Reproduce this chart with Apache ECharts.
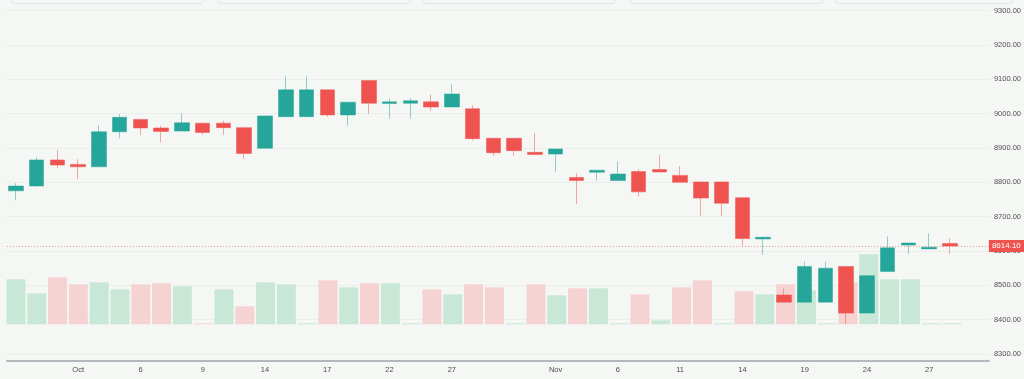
<!DOCTYPE html>
<html><head><meta charset="utf-8">
<script src="https://cdn.jsdelivr.net/npm/echarts@6/dist/echarts.min.js"></script>
<style>html,body{margin:0;padding:0;background:#f5f7f5;overflow:hidden}#c{width:1024px;height:379px;}</style>
</head><body><div id="c"></div>
<script>
// slot index of each candle (trading sessions)
const categories = [0,1,2,3,4,5,6,7,8,9,10,11,12,13,14,15,16,17,18,19,20,21,22,23,24,25,26,27,28,29,30,31,32,33,34,35,36,37,38,39,40,41,42,43,44,45];
const open  = [8775,8789,8865,8852,8845,8947,8983,8958,8949,8972,8972,8959,8899,8991,8991,9069,8996,9096,9029,9030,9034,9019,9014,8928,8928,8887,8882,8814,8829,8805,8831,8837,8820,8801,8801,8755,8635,8472,8451,8451,8555,8419,8540,8617,8606,8622];
const close = [8789,8865,8850,8845,8947,8989,8958,8948,8973,8945,8959,8884,8993,9069,9069,8996,9033,9030,9034,9037,9019,9057,8927,8886,8892,8881,8897,8805,8835,8824,8772,8830,8800,8754,8739,8636,8640,8451,8555,8550,8419,8528,8609,8623,8611,8614.1];
const low   = [8748,8787,8842,8809,8845,8928,8938,8916,8949,8938,8938,8868,8899,8991,8991,8991,8964,8999,8985,8985,9008,9019,8922,8877,8877,8881,8831,8736,8805,8805,8758,8830,8800,8702,8702,8615,8589,8451,8451,8451,8387,8419,8540,8591,8606,8591];
const high  = [8797,8873,8894,8867,8967,8998,8983,8964,9001,8972,8979,8959,8993,9110,9110,9069,9033,9096,9044,9046,9056,9085,9024,8928,8928,8944,8897,8826,8835,8860,8838,8879,8847,8801,8801,8755,8640,8491,8568,8568,8555,8530,8642,8623,8651,8637];
const volume = [45,31,47,40,42,35,40,41,38,1,35,18,42,40,1,44,37,41,41,1,35,30,40,37,1,40,29,36,36,1,30,4,37,44,1,33,30,40,34,1,42,70,45,45,1,1];
const volumeDir = ['u','u','d','d','u','u','d','d','u','d','u','d','u','u','u','d','u','d','u','u','d','u','d','d','u','d','u','d','u','u','d','u','d','d','u','d','u','d','u','u','d','u','u','u','u','u'];
const tickIdx = [3,6,9,12,15,18,21,26,29,32,35,38,41,44];
const tickLabels = ['Oct','6','9','14','17','22','27','Nov','6','11','14','19','24','27'];
const lastPrice = 8614.1;

const UP = '#26a69a', DOWN = '#ef5350';
const candleData = categories.map(i => [i, open[i], close[i], low[i], high[i]]);
const volData = categories.map(i => ({
  value: [i, volume[i]],
  itemStyle: { color: volumeDir[i] === 'u' ? '#c9e7d6' : '#f6d3d3' }
}));

const chart = echarts.init(document.getElementById('c'), null, {renderer: 'canvas'});
const font = 'Liberation Sans, Arial, sans-serif';
chart.setOption({
  animation: false,
  backgroundColor: '#f5f7f5',
  graphic: [9, 216, 421, 628, 833].map((x, k) => ({
    type: 'rect', left: x, top: -20,
    shape: { width: (k === 4 ? 177 : 192), height: 21, r: 3 },
    style: { fill: 'none', stroke: '#e1e4e9', lineWidth: 1 }
  })),
  grid: [
    { left: 7, right: 33, top: 10.5, bottom: 25 },
    { left: 7, right: 33, top: 224.3, bottom: 54.7 }
  ],
  xAxis: [
    { type: 'value', gridIndex: 0, min: -0.43, max: 46.875, offset: 7,
      splitLine: { show: false }, axisTick: { show: false },
      axisLine: { show: true, onZero: false, lineStyle: { color: '#b4b7bd', width: 2 } },
      axisLabel: { customValues: tickIdx, margin: 5, color: '#4a4a4a', fontSize: 7.5, fontFamily: font,
        formatter: v => { const k = tickIdx.indexOf(Math.round(v)); return k >= 0 ? tickLabels[k] : ''; } } },
    { type: 'value', gridIndex: 1, min: -0.43, max: 46.875, show: false }
  ],
  yAxis: [
    { type: 'value', gridIndex: 0, position: 'right', min: 8300, max: 9300, interval: 100,
      axisLine: { show: false }, axisTick: { show: false },
      splitLine: { show: true, lineStyle: { color: '#ebeeeb', width: 1 } },
      axisLabel: { margin: 5, color: '#505050', fontSize: 7.5, fontFamily: font,
        formatter: v => v.toFixed(2) } },
    { type: 'value', gridIndex: 1, min: 0, max: 100, show: false, splitLine: { show: false } }
  ],
  series: [
    { type: 'bar', xAxisIndex: 1, yAxisIndex: 1, data: volData, barWidth: 19, z: 1, silent: true },
    { type: 'candlestick', xAxisIndex: 0, yAxisIndex: 0, data: candleData, z: 3,
      encode: { x: 0, y: [1, 2, 3, 4] }, barWidth: 15,
      itemStyle: { color: UP, color0: DOWN, borderColor: 'rgba(38,166,154,0.5)', borderColor0: 'rgba(239,83,80,0.5)', borderWidth: 1 },
      markLine: { silent: true, symbol: ['none', 'none'],
        lineStyle: { color: 'rgba(239,83,80,0.55)', type: [1, 2], width: 1 },
        label: { position: 'end', distance: 0, formatter: () => lastPrice.toFixed(2), color: '#fff',
          backgroundColor: DOWN, padding: [2, 4, 2, 3], fontSize: 8, fontFamily: font },
        data: [{ yAxis: lastPrice }] } }
  ]
});
</script></body></html>
